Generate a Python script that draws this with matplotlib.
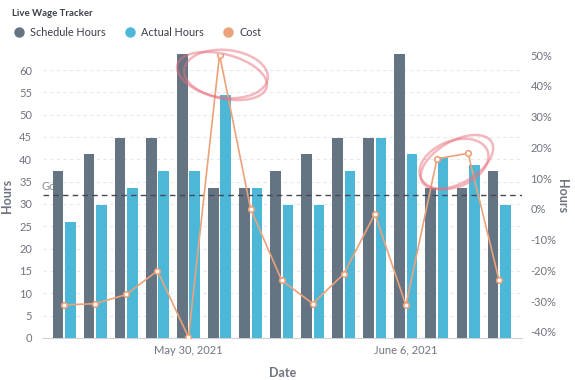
import numpy as np
import matplotlib
matplotlib.use("Agg")
import matplotlib.pyplot as plt
from matplotlib.patches import Ellipse
from matplotlib.lines import Line2D

plt.rcParams['font.family'] = ['Lato', 'DejaVu Sans']

# data
dates = ["May 26", "May 27", "May 28", "May 29", "May 30, 2021", "May 31", "June 1",
         "June 2", "June 3", "June 4", "June 5", "June 6, 2021", "June 7", "June 8", "June 9"]
schedule_hours = [37.4, 41.1, 44.8, 44.8, 63.5, 33.6, 33.6, 37.4, 41.1, 44.8, 44.8, 63.5, 33.6, 33.6, 37.4]
actual_hours = [26.0, 29.8, 33.6, 37.4, 37.4, 54.5, 33.6, 29.8, 29.8, 37.4, 44.8, 41.1, 40.5, 38.8, 29.8]
cost_pct = [-31.2, -30.8, -27.8, -20.1, -41.7, 50.2, 0.0, -23.2, -30.8, -21.1, -1.6, -31.3, 16.3, 18.1, -23.2]
goal = 32
shown_dates = ["May 30, 2021", "June 6, 2021"]

c_sched = "#657482"
c_act = "#4db7d8"
c_cost = "#eba27a"
c_text = "#6e7480"

fig = plt.figure(figsize=(5.75, 3.8), dpi=100)
ax = fig.add_axes([0.075, 0.111, 0.833, 0.747])
x = np.arange(len(dates))

ax.bar(x - 0.2, schedule_hours, width=0.34, color=c_sched, zorder=3)
ax.bar(x + 0.2, actual_hours, width=0.34, color=c_act, zorder=3)
ax.axhline(goal, color="#444a55", lw=1, ls=(0, (4, 3)), zorder=4)
ax.text(-0.72, goal + 0.6, "Goal", color="#8a8f98", fontsize=8, zorder=2, ha="left", va="bottom")

ax.set_xlim(-0.68, 14.74)
ax.set_ylim(0, 63.6)
ax.set_yticks(np.arange(0, 61, 5))
ax.yaxis.grid(True, color="#e6e8ec", ls=(0, (3, 3)), lw=0.8, zorder=0)
ax.set_xticks([dates.index(d) for d in shown_dates])
ax.set_xticklabels(shown_dates)
ax.tick_params(axis="x", length=0, pad=5, labelsize=8, colors=c_text)
ax.tick_params(axis="y", length=0, pad=8, labelsize=8, colors=c_text)
for s in ["top", "right", "left"]:
    ax.spines[s].set_visible(False)
ax.spines["bottom"].set_color("#cfd3d8")
ax.set_ylabel("Hours", fontsize=9, color=c_text, fontweight="bold", labelpad=4)
ax.set_xlabel("Date", fontsize=9, color=c_text, fontweight="bold", labelpad=8)

ax2 = ax.twinx()
ax2.plot(x, cost_pct, color=c_cost, lw=1.2, marker="o", ms=4, mfc="white",
         mec=c_cost, mew=1.2, zorder=5)
ax2.set_ylim(-41.9, 50.4)
ax2.set_yticks(np.arange(-40, 51, 10))
ax2.set_yticklabels([f"{v}%" for v in range(-40, 51, 10)])
ax2.tick_params(axis="y", length=0, pad=6, labelsize=8, colors=c_text)
for s in ["top", "right", "left", "bottom"]:
    ax2.spines[s].set_visible(False)
ax2.set_ylabel("Hours", fontsize=9, color=c_text, fontweight="bold", rotation=270, labelpad=8)

# hand drawn circles
for (cx, cy, w, h, a) in [(222, 76, 92, 44, -14), (226, 74, 84, 48, -6),
                          (457, 162, 80, 42, 30), (454, 164, 72, 46, 22)]:
    fig.add_artist(Ellipse((cx / 100, 3.8 - cy / 100), w / 100, h / 100, angle=a,
                           transform=fig.dpi_scale_trans, fill=False,
                           ec="#e8707f", lw=1.8, alpha=0.5, zorder=10))

fig.text(0.02, 0.965, "Live Wage Tracker", fontsize=6.9, color="#3a3f4a", fontweight="bold", va="center")
handles = [Line2D([], [], ls="", marker="o", ms=6.5, color=c) for c in (c_sched, c_act, c_cost)]
fig.legend(handles, ["Schedule Hours", "Actual Hours", "Cost"], loc="center left",
           bbox_to_anchor=(-0.003, 0.915), ncol=3, frameon=False, fontsize=7.8,
           handletextpad=0.05, columnspacing=1.2, labelcolor="#3a3f4a")

fig.savefig("out.png", dpi=100)
